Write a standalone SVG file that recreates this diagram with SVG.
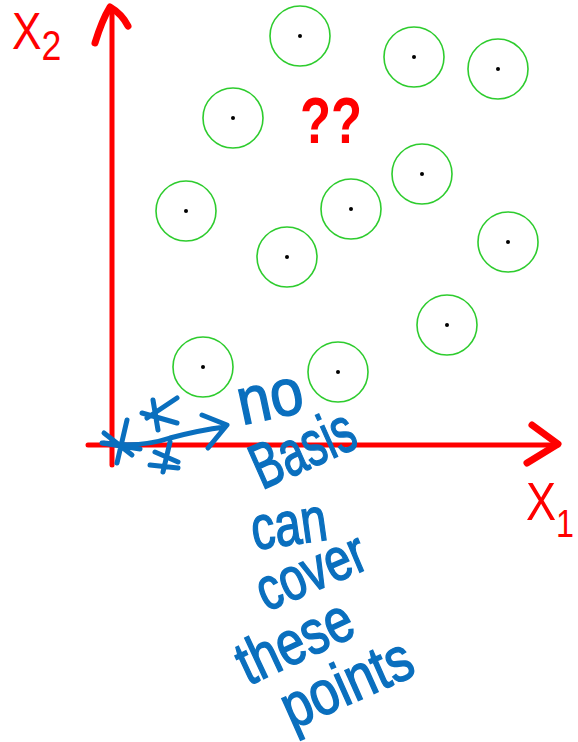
<svg xmlns="http://www.w3.org/2000/svg" width="578" height="742" viewBox="0 0 578 742">
<style>
.red{stroke:#ff0000;fill:none;stroke-linecap:round;stroke-linejoin:round}
.pt{fill:none;stroke:#2ecc2e;stroke-width:1.6}
.dot{fill:#000}
.blue{stroke:#0a6fbe;fill:none;stroke-width:5;stroke-linecap:round;stroke-linejoin:round}
.hw{font-family:"Liberation Sans",Arial,sans-serif;fill:#0a6fbe;stroke:#0a6fbe;stroke-width:1.5}
.rl{font-family:"Liberation Sans",Arial,sans-serif;fill:#ff0000}
</style>
<rect width="578" height="742" fill="#fff"/>
<g id="axes">
<path class="red" stroke-width="5" d="M112 8 L112 465"/>
<path class="red" stroke-width="5" d="M88 445 L558 445"/>
<path class="red" stroke-width="7" d="M95 43 Q102 20 110 7 Q122 14 128 26"/>
<path class="red" stroke-width="7" d="M532 425 L558 444 L527 463"/>
</g>
<g id="points">
<circle class="pt" cx="300" cy="36" r="30"/><circle class="dot" cx="300" cy="36" r="2"/>
<circle class="pt" cx="414" cy="57" r="30"/><circle class="dot" cx="414" cy="57" r="2"/>
<circle class="pt" cx="498" cy="69" r="30"/><circle class="dot" cx="498" cy="69" r="2"/>
<circle class="pt" cx="233" cy="118" r="30"/><circle class="dot" cx="233" cy="118" r="2"/>
<circle class="pt" cx="422" cy="174" r="30"/><circle class="dot" cx="422" cy="174" r="2"/>
<circle class="pt" cx="186" cy="211" r="30"/><circle class="dot" cx="186" cy="211" r="2"/>
<circle class="pt" cx="351" cy="209" r="30"/><circle class="dot" cx="351" cy="209" r="2"/>
<circle class="pt" cx="508" cy="242" r="30"/><circle class="dot" cx="508" cy="242" r="2"/>
<circle class="pt" cx="287" cy="257" r="30"/><circle class="dot" cx="287" cy="257" r="2"/>
<circle class="pt" cx="447" cy="325" r="30"/><circle class="dot" cx="447" cy="325" r="2"/>
<circle class="pt" cx="203" cy="367" r="30"/><circle class="dot" cx="203" cy="367" r="2"/>
<circle class="pt" cx="338" cy="372" r="30"/><circle class="dot" cx="338" cy="372" r="2"/>
</g>
<g id="labels">
<text class="rl" font-size="52" transform="translate(12 49) scale(0.85 1)">X<tspan font-size="42" dy="11">2</tspan></text>
<text class="rl" font-size="53" transform="translate(526 520) scale(0.85 1)">X<tspan font-size="38" dy="17">1</tspan></text>
<text class="rl" x="300" y="143" font-size="64" font-weight="bold" textLength="62" lengthAdjust="spacingAndGlyphs">??</text>
</g>
<g id="stars">
<path class="blue" d="M127 420 L117 463 M102 443 L140 449 M104 433 L132 455"/>
<path class="blue" d="M153 400 L158 430 M142 413 L177 423 M177 398 L147 418"/>
<path class="blue" d="M170 442 L163 472 M150 465 L178 468 M155 452 L178 462"/>
<path class="blue" d="M104 443 Q140 448 170 438 Q200 430 225 427 M202 415 L227 425 L208 448"/>
</g>
<g id="note">
<text class="hw" font-size="66" transform="translate(242 425) rotate(-12)" textLength="66" lengthAdjust="spacingAndGlyphs">no</text>
<text class="hw" font-size="64" transform="translate(262 490) rotate(-24)" textLength="108" lengthAdjust="spacingAndGlyphs">Basis</text>
<text class="hw" font-size="62" transform="translate(254 550) rotate(-8)" textLength="76" lengthAdjust="spacingAndGlyphs">can</text>
<text class="hw" font-size="60" transform="translate(266 612) rotate(-23)" textLength="114" lengthAdjust="spacingAndGlyphs">cover</text>
<text class="hw" font-size="62" transform="translate(248 686) rotate(-25)" textLength="122" lengthAdjust="spacingAndGlyphs">these</text>
<text class="hw" font-size="62" transform="translate(292 730) rotate(-24)" textLength="138" lengthAdjust="spacingAndGlyphs">points</text>
</g>
</svg>
